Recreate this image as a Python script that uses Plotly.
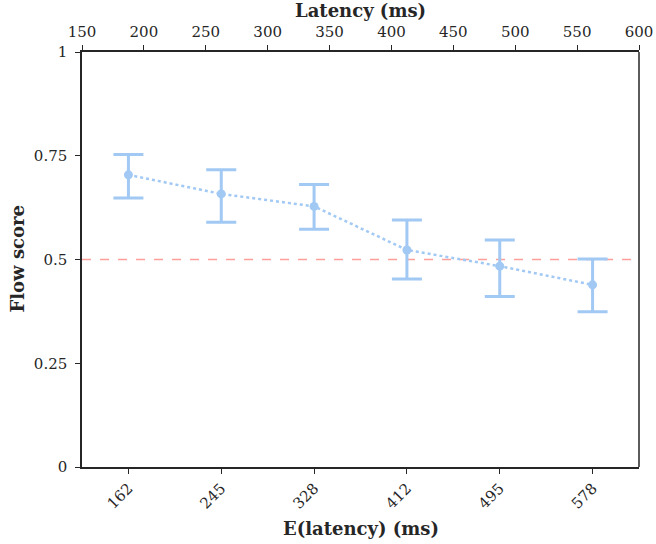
import plotly.graph_objects as go

categories = ["162", "245", "328", "412", "495", "578"]
flow_mean = [0.704, 0.658, 0.628, 0.523, 0.484, 0.439]
err_upper = [0.753, 0.716, 0.681, 0.595, 0.547, 0.501]
err_lower = [0.648, 0.590, 0.573, 0.453, 0.411, 0.374]
top_ticks = [150, 200, 250, 300, 350, 400, 450, 500, 550, 600]
y_ticks = [0, 0.25, 0.5, 0.75, 1]
y_ticktext = ["0", "0.25", "0.5", "0.75", "1"]
reference_level = 0.5

xidx = list(range(len(categories)))
plus = [u - m for u, m in zip(err_upper, flow_mean)]
minus = [m - l for m, l in zip(flow_mean, err_lower)]

blue = "#a1c9f4"
ink = "#262626"
font_family = "DejaVu Serif"

fig = go.Figure()
fig.add_trace(go.Scatter(
    x=xidx, y=flow_mean, mode="lines+markers",
    line=dict(color=blue, width=2.5, dash="dot"),
    marker=dict(color=blue, size=9),
    error_y=dict(type="data", symmetric=False, array=plus, arrayminus=minus,
                 color=blue, thickness=3, width=15),
    showlegend=False, hoverinfo="skip",
))
# invisible trace to activate top axis
fig.add_trace(go.Scatter(
    x=[top_ticks[0], top_ticks[-1]], y=[None, None], xaxis="x2",
    mode="markers", marker=dict(opacity=0), showlegend=False, hoverinfo="skip",
))

fig.add_shape(type="line", xref="paper", yref="y", x0=0, x1=1,
              y0=reference_level, y1=reference_level,
              line=dict(color="#ff9f9b", width=1.3, dash="dash"), layer="below")

axis_common = dict(showgrid=False, zeroline=False, linecolor=ink, linewidth=1.5,
                   ticks="outside", ticklen=5, tickwidth=1.2, tickcolor=ink,
                   automargin=False,
                   tickfont=dict(family=font_family, size=15, color=ink))

fig.update_layout(
    width=656, height=544,
    margin=dict(l=82, r=17, t=52, b=77),
    plot_bgcolor="white", paper_bgcolor="white",
    font=dict(family=font_family, color=ink),
    xaxis=dict(
        **axis_common,
        range=[-0.5, len(categories) - 0.5],
        tickmode="array", tickvals=xidx, ticktext=categories,
        tickangle=-45,
    ),
    xaxis2=dict(
        **axis_common,
        overlaying="x", side="top", range=[150, 600],
        tickmode="array", tickvals=top_ticks,
        ticklabelstandoff=2,
    ),
    yaxis=dict(
        **axis_common,
        range=[0, 1], tickmode="array", tickvals=y_ticks, ticktext=y_ticktext,
        ticklabelstandoff=5,
    ),
)
fig.add_shape(type="line", xref="paper", yref="paper", x0=1, x1=1, y0=0, y1=1,
              line=dict(color=ink, width=1.5))

title_font = dict(family=font_family, size=18, color=ink)
fig.add_annotation(text="<b>Latency (ms)</b>", xref="paper", yref="paper", x=0.5, y=1,
                   xanchor="center", yanchor="middle", yshift=42, showarrow=False, font=title_font)
fig.add_annotation(text="<b>E(latency) (ms)</b>", xref="paper", yref="paper", x=0.5, y=0,
                   xanchor="center", yanchor="middle", yshift=-61, showarrow=False, font=title_font)
fig.add_annotation(text="<b>Flow score</b>", xref="paper", yref="paper", x=0, y=0.5,
                   xanchor="center", yanchor="middle", xshift=-65, textangle=-90,
                   showarrow=False, font=title_font)

fig.write_html("out.html")
